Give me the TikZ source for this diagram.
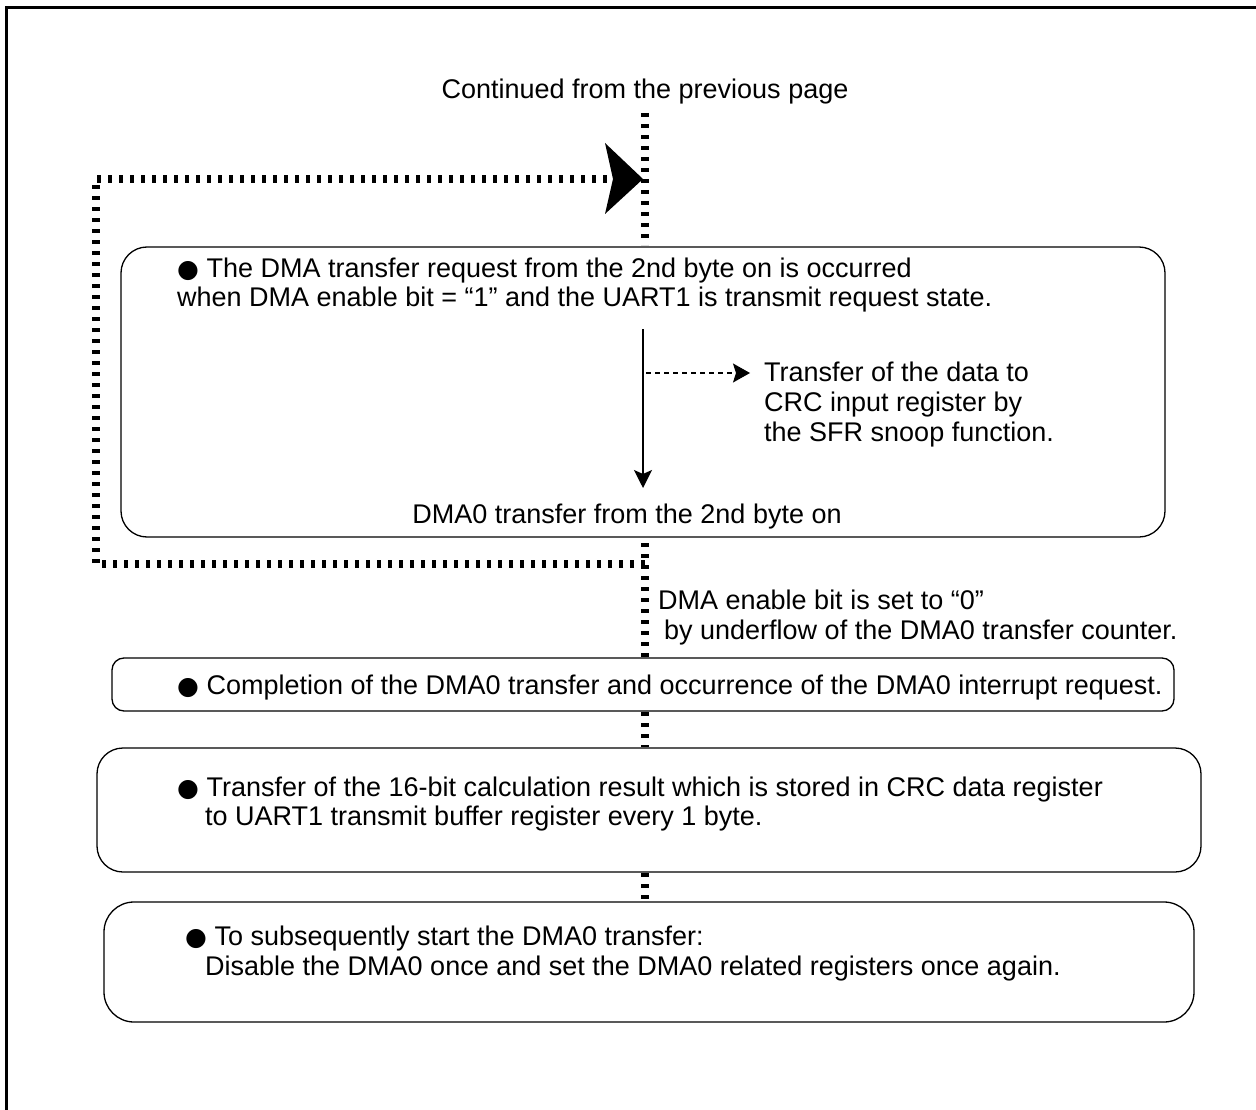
\documentclass[tikz,border=0pt]{standalone}
\usepackage{fontspec}
\setmainfont{Liberation Sans}
\newfontfamily\dejavu{DejaVu Sans}
\usetikzlibrary{arrows.meta}
\newcommand{\bul}{{\dejavu\fontsize{25}{30}\selectfont ●}}
\begin{document}
\begin{tikzpicture}[x=1pt,y=-1pt,
  box/.style={draw, line width=1.3pt, rounded corners=26pt, inner sep=0pt},
  smallbox/.style={draw, line width=1.3pt, rounded corners=12pt, inner sep=0pt},
  txt/.style={anchor=base west, inner sep=0pt, font=\fontsize{27}{30}\selectfont},
  ctxt/.style={anchor=base, inner sep=0pt, font=\fontsize{27}{30}\selectfont},
  dotline/.style={line width=7.5pt, dash pattern=on 4pt off 7pt},
  solidarrow/.style={line width=1.5pt, -{Stealth[length=18pt,width=18pt,inset=4pt]}},
  dasharrow/.style={line width=1.2pt, dash pattern=on 5pt off 4pt, -{Stealth[length=17pt,width=19pt,inset=3pt]}},
]
\useasboundingbox (0,0) rectangle (1256,1110);
\draw[line width=3pt] (6,1110) -- (6,8) -- (1256,8);

% boxes
\node[box, minimum width=1044pt, minimum height=290pt] (b1) at (643,392) {};
\node[smallbox, minimum width=1062pt, minimum height=53pt] (b2) at (643,684.5) {};
\node[box, minimum width=1104pt, minimum height=124pt] (b3) at (649,810) {};
\node[box, minimum width=1090pt, minimum height=120pt, rounded corners=30pt] (b4) at (649,962) {};

% title
\node[ctxt] (title) at (645,99) {Continued from the previous page};

% spine coordinates
\coordinate (s0) at (645,113);
\coordinate (s1) at (645,245);
\coordinate (s2) at (645,543);
\coordinate (s3) at (645,657);
\coordinate (s4) at (645,712);
\coordinate (s5) at (645,747);
\coordinate (s6) at (645,873);
\coordinate (s7) at (645,901);
\draw[dotline] (s0) -- (s1);
\draw[dotline] (s2) -- (s3);
\draw[dotline] (s4) -- (s5);
\draw[dotline] (s6) -- (s7);

% loop
\coordinate (la) at (645,564);
\coordinate (lb) at (96,564);
\coordinate (lc) at (96,179);
\coordinate (ld) at (612,179);
\draw[dotline] (la) -- (lb) -- (lc) -- (ld);
\fill (643,179) -- (605,143) -- (613,179) -- (605,214) -- cycle;

% box 1 text
\node[txt] (t1a) at (177,277) {\bul\ The DMA transfer request from the 2nd byte on is occurred};
\node[txt] (t1b) at (177,306) {when DMA enable bit = “1” and the UART1 is transmit request state.};
\coordinate (a0) at (643,329);
\coordinate (a1) at (643,488);
\draw[solidarrow] (a0) -- (a1);
\coordinate (d0) at (646,373);
\coordinate (d1) at (750,373);
\draw[dasharrow] (d0) -- (d1);
\node[txt] (s1a) at (764,381) {Transfer of the data to};
\node[txt] (s1b) at (764,411) {CRC input register by};
\node[txt] (s1c) at (764,441) {the SFR snoop function.};
\node[ctxt] (t1c) at (627,523) {DMA0 transfer from the 2nd byte on};

% between
\node[txt] (e1) at (658,609) {DMA enable bit is set to “0”};
\node[txt] (e2) at (664,639) {by underflow of the DMA0 transfer counter.};

% box 2 text
\node[txt] (t2) at (177,694) {\bul\ Completion of the DMA0 transfer and occurrence of the DMA0 interrupt request.};

% box 3 text
\node[txt] (t3a) at (177,796) {\bul\ Transfer of the 16-bit calculation result which is stored in CRC data register};
\node[txt] (t3b) at (205,825) {to UART1 transmit buffer register every 1 byte.};

% box 4 text
\node[txt] (t4a) at (185,945) {\bul\ To subsequently start the DMA0 transfer:};
\node[txt] (t4b) at (205,975) {Disable the DMA0 once and set the DMA0 related registers once again.};
\end{tikzpicture}
\end{document}
